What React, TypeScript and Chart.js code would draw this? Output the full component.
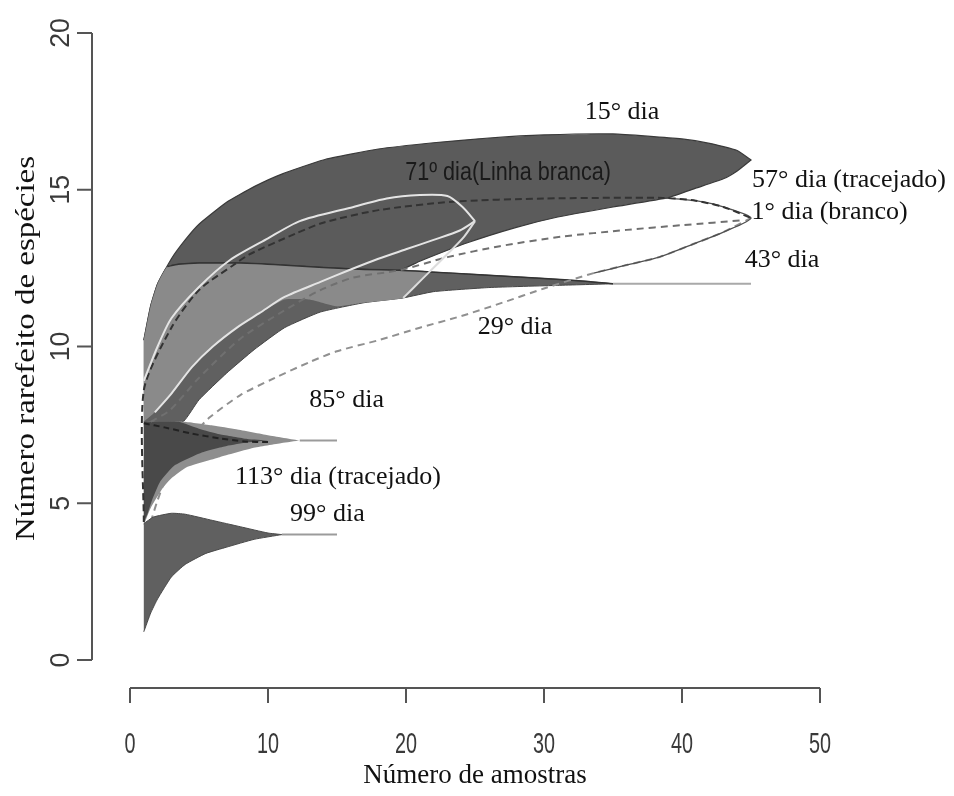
import { useEffect, useRef } from "react";
import { Chart, registerables } from "chart.js";

Chart.register(...registerables);

type Pt = [number, number];

// Axis ticks
const xTicks = [0, 10, 20, 30, 40, 50];
const yTicks = [0, 5, 10, 15, 20];

// 15º dia – confidence band
const band15Upper: Pt[] = [[1, 10.2], [1.5, 11.3], [2, 12.0], [3, 12.8], [4, 13.4], [5, 13.9], [7, 14.6], [9, 15.1], [11, 15.5], [14, 15.95], [18, 16.3], [22, 16.5], [26, 16.65], [30, 16.75], [35, 16.78], [40, 16.62], [42, 16.48], [44, 16.25], [45, 15.95]];
const band15Lower: Pt[] = [[2.7, 12.55], [3.5, 12.62], [5, 12.66], [8, 12.66], [11, 12.6], [14, 12.52], [17, 12.46], [19.5, 12.43], [21, 12.72], [24.4, 13.3], [28, 13.8], [31, 14.13], [35, 14.45], [39, 14.75], [41, 15.05], [43, 15.35], [44, 15.6], [45, 15.95]];

// 43º dia – band converging to 12 species
const band43Upper: Pt[] = [[1, 10.2], [1.5, 11.3], [2, 12.0], [2.7, 12.55], [3.5, 12.62], [5, 12.66], [8, 12.66], [11, 12.6], [14, 12.52], [17, 12.46], [19.5, 12.43], [21.7, 12.38], [25, 12.3], [30, 12.17], [33, 12.08], [35, 12.0]];
const band43Lower: Pt[] = [[1, 7.6], [3, 7.6], [3.9, 7.62], [5, 8.3], [7, 9.15], [9, 9.9], [11.2, 10.6], [13.8, 11.1], [17, 11.4], [19.8, 11.55], [22, 11.75], [26, 11.88], [31, 11.95], [35, 12.0]];

// 71º dia – light band
const band71Upper: Pt[] = [[1, 10.2], [1.5, 11.3], [2, 12.0], [2.7, 12.55], [3.5, 12.62], [5, 12.66], [8, 12.66], [11, 12.6], [14, 12.52], [17, 12.46], [19.5, 12.43], [21.7, 12.38]];
const band71Lower: Pt[] = [[1, 7.6], [1.8, 7.9], [3, 8.5], [4.5, 9.35], [6, 10.0], [7.8, 10.62], [9.4, 11.07], [11.2, 11.5], [13, 11.5], [15, 11.28], [17, 11.4], [19.8, 11.55], [20.6, 11.9]];

// 71º dia – white lines
const line71Top: Pt[] = [[1, 8.9], [2, 10.0], [3, 10.9], [5, 11.9], [7.25, 12.76], [10, 13.45], [12.3, 14.0], [15.9, 14.42], [18.6, 14.72], [21, 14.83], [23, 14.8], [24.1, 14.45], [25, 14.0]];
const line71Mid: Pt[] = [[1.8, 7.9], [3, 8.5], [4.5, 9.35], [6, 10.0], [7.8, 10.62], [9.4, 11.07], [11.2, 11.58], [13.8, 12.06], [15.9, 12.44], [18, 12.8], [20, 13.1], [22, 13.4], [23.9, 13.7], [25, 14.0]];
const line71Edge: Pt[] = [[19.8, 11.55], [20.6, 11.9], [21.7, 12.38], [23, 12.95], [24.2, 13.5], [25, 14.0]];

// 57º dia – dashed curve
const line57: Pt[] = [[1, 4.4], [1, 8.6], [3, 10.6], [5, 11.8], [7.5, 12.6], [8.7, 12.95], [12, 13.6], [14, 13.95], [18, 14.35], [23.4, 14.62], [30, 14.72], [38.6, 14.74], [41, 14.65], [43, 14.45], [45, 14.1]];
// 29º dia – dashed curve
const line29: Pt[] = [[1.5, 4.4], [2, 5.1], [2.7, 5.9], [3.7, 6.8], [5, 7.4], [5.8, 7.75], [8, 8.45], [10.5, 9.0], [13, 9.5], [15, 9.85], [18, 10.2], [21, 10.6], [24, 10.97], [27, 11.4], [30, 11.85], [33.6, 12.34], [36, 12.6], [38.4, 12.86], [41, 13.3], [43, 13.65], [45, 14.1]];
// 1º dia – dashed curve
const line1: Pt[] = [[1.5, 7.6], [2.9, 7.97], [5, 9.0], [8, 10.25], [11, 11.1], [13.8, 11.8], [16.2, 12.2], [19.6, 12.44], [23, 12.85], [26.8, 13.2], [31.2, 13.5], [36, 13.72], [40, 13.87], [44.5, 14.03]];

// 113º / 85º dia
const band113Upper: Pt[] = [[1, 7.6], [3.9, 7.6], [6, 7.48], [7.7, 7.36], [10, 7.17], [12.3, 7.0]];
const band113Lower: Pt[] = [[1, 4.3], [1.5, 4.85], [2.4, 5.5], [3, 5.8], [4.1, 6.15], [6.5, 6.47], [8.9, 6.76], [11, 6.92], [12.3, 7.0]];
const band85Upper: Pt[] = [[1, 7.6], [3.5, 7.6], [5, 7.38], [6.5, 7.2], [8.5, 7.05], [10, 7.0]];
const band85Lower: Pt[] = [[1, 4.4], [1.3, 4.7], [1.6, 5.1], [2.2, 5.7], [3.2, 6.2], [5.2, 6.62], [7, 6.83], [8.5, 6.94], [10, 7.0]];
const line113: Pt[] = [[1, 7.55], [2.5, 7.42], [4.5, 7.22], [6.5, 7.07], [8.3, 6.97], [10, 6.95]];

// 99º dia
const band99Upper: Pt[] = [[1, 4.35], [1.7, 4.56], [3, 4.68], [4, 4.65], [6, 4.45], [8, 4.25], [10, 4.05], [11, 4.0]];
const band99Lower: Pt[] = [[1, 0.9], [1.5, 1.5], [2, 1.95], [3, 2.65], [4, 3.05], [5.5, 3.4], [7, 3.6], [9, 3.85], [11, 4.0]];

// Extrapolated asymptotes
const tail43: Pt[] = [[35, 12], [45, 12]];
const tail113: Pt[] = [[12.3, 7], [15, 7]];
const tail99: Pt[] = [[11, 4], [15, 4]];

// Annotations
const labelTexts = ["15° dia", "57° dia (tracejado)", "1° dia (branco)", "43° dia", "29° dia", "85° dia", "113° dia (tracejado)", "99° dia"];
const labelX = [35.65, 52.1, 50.7, 47.25, 27.9, 15.7, 15.07, 14.3];
const labelY = [17.48, 15.31, 14.29, 12.76, 10.62, 8.29, 5.84, 4.66];
const sansLabel = { text: "71º dia(Linha branca)", x: 27.4, y: 15.53 };

const xTitle = "Número de amostras";
const yTitle = "Número rarefeito de espécies";

const toXY = (pts: Pt[]) => pts.map(([x, y]) => ({ x, y }));
const polygon = (upper: Pt[], lower: Pt[]) => toXY([...upper, ...[...lower].reverse()]);

const NONE = "rgba(0,0,0,0)";

function area(label: string, upper: Pt[], lower: Pt[], color: string, border = NONE, width = 1) {
  return {
    label,
    data: polygon(upper, lower),
    showLine: true,
    fill: "shape",
    backgroundColor: color,
    borderColor: border,
    borderWidth: width,
    pointRadius: 0,
    tension: 0.15,
  };
}

function curve(label: string, pts: Pt[], color: string, width: number, dash: number[] = []) {
  return {
    label,
    data: toXY(pts),
    showLine: true,
    fill: false,
    backgroundColor: NONE,
    borderColor: color,
    borderWidth: width,
    borderDash: dash,
    pointRadius: 0,
    tension: 0.25,
  };
}

// Closed outline of the 1º dia band on its exposed right end
const ring1: Pt[] = [...line29.filter(([x]) => x >= 33), ...line57.filter(([x]) => x >= 38.6 && x < 45).reverse()];

const layers = [
  area("15º dia", band15Upper, band15Lower, "#5b5b5b", "#3a3a3a", 1.2),
  area("43º dia", band43Upper, band43Lower, "#606060", "#454545", 1),
  area("71º dia", band71Upper, band71Lower, "#8a8a8a"),
  curve("43º dia limite", band43Upper.filter(([x]) => x >= 2.7), "#333333", 1.5),
  curve("29º dia", line29, "#909090", 2, [7, 5]),
  area("113º dia", band113Upper, band113Lower, "#8e8e8e"),
  area("85º dia", band85Upper, band85Lower, "#494949"),
  area("99º dia", band99Upper, band99Lower, "#606060", "#4a4a4a", 1),
  curve("43º dia ext", tail43, "#a9a9a9", 2),
  curve("113º dia ext", tail113, "#9b9b9b", 2),
  curve("99º dia ext", tail99, "#9b9b9b", 2),
  curve("1º dia contorno", ring1, "#4f4f4f", 1.3),
  curve("1º dia", line1, "#707070", 2, [7, 5]),
  curve("57º dia", line57, "#333333", 2, [7, 4]),
  curve("113º dia média", line113, "#222222", 2, [6, 4]),
  curve("71º dia linha", line71Top, "#e4e4e4", 2),
  curve("71º dia linha 2", line71Mid, "#e4e4e4", 2),
  curve("71º dia linha 3", line71Edge, "#dcdcdc", 2),
];
const datasets = layers.map((d, i) => ({ ...d, order: layers.length - i }));

const SERIF = '"Liberation Serif", "Times New Roman", serif';
const SANS = '"Liberation Sans", Arial, sans-serif';

const paperPlugin = {
  id: "paper",
  beforeDraw(chart: any) {
    const { ctx, width, height } = chart;
    ctx.save();
    ctx.fillStyle = "#ffffff";
    ctx.fillRect(0, 0, width, height);
    ctx.restore();
  },
};

const axesPlugin = {
  id: "rAxes",
  afterDraw(chart: any) {
    const { ctx } = chart;
    const xs = chart.scales.x;
    const ys = chart.scales.y;
    const x0 = xs.getPixelForValue(0);
    const y0 = ys.getPixelForValue(0);
    const axisY = y0 + 28;
    const axisX = x0 - 38;
    ctx.save();
    ctx.strokeStyle = "#555555";
    ctx.lineWidth = 2;
    ctx.lineCap = "butt";
    // x axis
    ctx.beginPath();
    ctx.moveTo(xs.getPixelForValue(xTicks[0]), axisY);
    ctx.lineTo(xs.getPixelForValue(xTicks[xTicks.length - 1]), axisY);
    xTicks.forEach((t) => {
      const px = xs.getPixelForValue(t);
      ctx.moveTo(px, axisY);
      ctx.lineTo(px, axisY + 15);
    });
    // y axis
    ctx.moveTo(axisX, ys.getPixelForValue(yTicks[0]));
    ctx.lineTo(axisX, ys.getPixelForValue(yTicks[yTicks.length - 1]));
    yTicks.forEach((t) => {
      const py = ys.getPixelForValue(t);
      ctx.moveTo(axisX, py);
      ctx.lineTo(axisX - 15, py);
    });
    ctx.stroke();

    // tick labels
    ctx.fillStyle = "#3a3a3a";
    ctx.font = `30px ${SANS}`;
    ctx.textAlign = "center";
    ctx.textBaseline = "middle";
    xTicks.forEach((t) => {
      ctx.save();
      ctx.translate(xs.getPixelForValue(t), axisY + 57);
      ctx.scale(0.66, 1);
      ctx.fillText(String(t), 0, 0);
      ctx.restore();
    });
    ctx.font = `28px ${SANS}`;
    yTicks.forEach((t) => {
      ctx.save();
      ctx.translate(axisX - 31, ys.getPixelForValue(t));
      ctx.rotate(-Math.PI / 2);
      ctx.scale(0.95, 1);
      ctx.fillText(String(t), 0, 0);
      ctx.restore();
    });

    // axis titles
    ctx.fillStyle = "#111111";
    ctx.font = `27px ${SERIF}`;
    ctx.fillText(xTitle, (xs.left + xs.right) / 2, axisY + 88);
    ctx.save();
    ctx.translate(27, (ys.top + ys.bottom) / 2 + 2);
    ctx.rotate(-Math.PI / 2);
    ctx.scale(1.22, 1);
    ctx.fillText(yTitle, 0, 0);
    ctx.restore();
    ctx.restore();
  },
};

const labelsPlugin = {
  id: "dayLabels",
  afterDraw(chart: any) {
    const { ctx } = chart;
    const xs = chart.scales.x;
    const ys = chart.scales.y;
    ctx.save();
    ctx.fillStyle = "#111111";
    ctx.textAlign = "center";
    ctx.textBaseline = "middle";
    ctx.font = `26px ${SERIF}`;
    labelTexts.forEach((txt, i) => {
      ctx.fillText(txt, xs.getPixelForValue(labelX[i]), ys.getPixelForValue(labelY[i]));
    });
    ctx.save();
    ctx.translate(xs.getPixelForValue(sansLabel.x), ys.getPixelForValue(sansLabel.y));
    ctx.scale(0.83, 1);
    ctx.font = `26px ${SANS}`;
    ctx.fillStyle = "#1a1a1a";
    ctx.fillText(sansLabel.text, 0, 0);
    ctx.restore();
    ctx.restore();
  },
};

export default function App() {
  const canvasRef = useRef<HTMLCanvasElement>(null);

  useEffect(() => {
    const canvas = canvasRef.current;
    if (!canvas) return;
    const chart = new Chart(canvas, {
      type: "scatter",
      data: { datasets: datasets as any },
      options: {
        animation: false,
        responsive: true,
        maintainAspectRatio: false,
        layout: { padding: { left: 130, right: 134, top: 33, bottom: 136 } },
        scales: {
          x: { type: "linear", min: 0, max: 50, display: false },
          y: { type: "linear", min: 0, max: 20, display: false },
        },
        plugins: {
          legend: { display: false },
          tooltip: { enabled: false },
        },
        elements: { line: { capBezierPoints: true } },
      },
      plugins: [paperPlugin, axesPlugin, labelsPlugin],
    });
    return () => chart.destroy();
  }, []);

  return (
    <div style={{ position: "absolute", left: 0, top: 0, width: 954, height: 796, background: "#ffffff" }}>
      <canvas ref={canvasRef} />
    </div>
  );
}
